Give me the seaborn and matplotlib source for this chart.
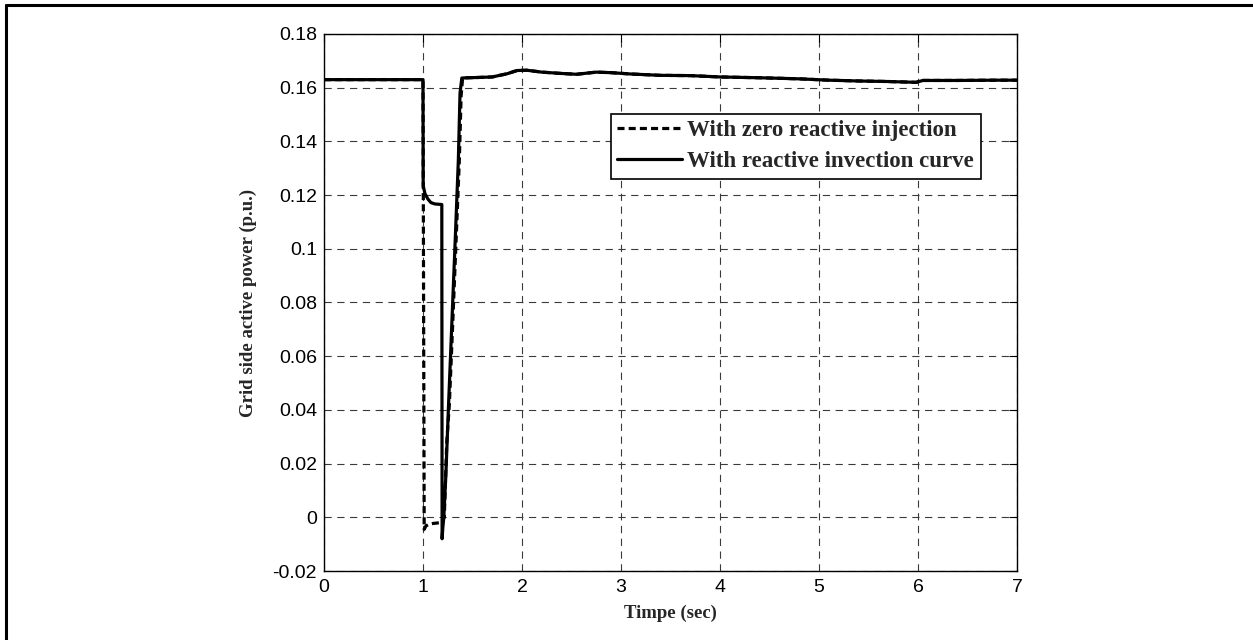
import numpy as np
import pandas as pd
import matplotlib
matplotlib.use("Agg")
import matplotlib.pyplot as plt
import seaborn as sns
from matplotlib.ticker import FuncFormatter, FixedLocator
from matplotlib.lines import Line2D

# ---------------- data ----------------
series_names = ["With zero reactive injection", "With reactive invection curve"]

t_tail = [1.45, 1.55, 1.70, 1.85, 1.95, 2.05, 2.20, 2.40, 2.55, 2.75, 2.90,
          3.10, 3.40, 3.70, 4.00, 4.40, 4.80, 5.10, 5.40, 5.70, 5.98, 6.05,
          6.40, 6.80, 7.00]
p_tail = [0.1637, 0.1638, 0.1640, 0.1652, 0.1664, 0.1665, 0.1658, 0.1653,
          0.1650, 0.1658, 0.1656, 0.1651, 0.1646, 0.1645, 0.1640, 0.1637,
          0.1633, 0.1628, 0.1625, 0.1623, 0.1620, 0.1627, 0.1627, 0.1628,
          0.1628]

t_zero = [0.0, 1.000, 1.012, 1.030, 1.060, 1.100, 1.150, 1.190, 1.215,
          1.240, 1.266, 1.300, 1.334, 1.367, 1.385, 1.400] + t_tail
p_zero = [0.1630, 0.1630, -0.0045, -0.0032, -0.0026, -0.0023, -0.0021,
          -0.0019, 0.0000, 0.0280, 0.0420, 0.0720, 0.1030, 0.1330, 0.1570,
          0.1636] + p_tail

t_curve = [0.0, 1.000, 1.002, 1.020, 1.050, 1.080, 1.120, 1.190, 1.193,
           1.200, 1.210, 1.230, 1.256, 1.290, 1.324, 1.357, 1.374, 1.392] + t_tail
p_curve = [0.1630, 0.1630, 0.1235, 0.1205, 0.1185, 0.1172, 0.1167, 0.1165,
           -0.0080, -0.0040, 0.0000, 0.0150, 0.0400, 0.0710, 0.1020, 0.1330,
           0.1580, 0.1636] + p_tail

x_ticks = [0, 1, 2, 3, 4, 5, 6, 7]
y_ticks = [-0.02, 0.0, 0.02, 0.04, 0.06, 0.08, 0.10, 0.12, 0.14, 0.16, 0.18]

x_label = "Timpe (sec)"
y_label = "Grid side active power (p.u.)"

# ---------------- styling ----------------
sns.set_theme(style="white")
plt.rcParams["font.family"] = ["Liberation Sans", "DejaVu Sans"]
plt.rcParams["axes.unicode_minus"] = False

W, H = 1253, 640
fig = plt.figure(figsize=(W / 100, H / 100), dpi=100)
fig.patch.set_facecolor("white")

ax_left, ax_right, ax_top, ax_bottom = 324, 1017, 34, 571
ax = fig.add_axes([ax_left / W, 1 - ax_bottom / H,
                   (ax_right - ax_left) / W, (ax_bottom - ax_top) / H])
ax.set_facecolor("white")

df_zero = pd.DataFrame({"t": t_zero, "p": p_zero})
df_curve = pd.DataFrame({"t": t_curve, "p": p_curve})

lw = 2.3
sns.lineplot(data=df_zero, x="t", y="p", ax=ax, sort=False, estimator=None,
             color="black", linewidth=lw, label=series_names[0],
             zorder=3)
ax.lines[-1].set_dashes([2.2, 1.3])
sns.lineplot(data=df_curve, x="t", y="p", ax=ax, sort=False, estimator=None,
             color="black", linewidth=lw, label=series_names[1],
             zorder=4)

ax.set_xlim(x_ticks[0], x_ticks[-1])
ax.set_ylim(y_ticks[0], y_ticks[-1])
ax.xaxis.set_major_locator(FixedLocator(x_ticks))
ax.yaxis.set_major_locator(FixedLocator(y_ticks))
ax.xaxis.set_major_formatter(FuncFormatter(lambda v, p: f"{v:g}"))
ax.yaxis.set_major_formatter(FuncFormatter(lambda v, p: f"{round(v, 4):g}"))

ax.grid(True, which="major", color="#3a3a3a", linestyle=(0, (6.5, 5.0)),
        linewidth=0.8, zorder=1)
ax.set_axisbelow(True)
ax.tick_params(direction="in", top=True, right=True, length=6, width=0.8,
               labelsize=14, colors="black")
ax.tick_params(axis="y", pad=5)
ax.tick_params(axis="x", pad=6)
for s in ax.spines.values():
    s.set_visible(True)
    s.set_color("black")
    s.set_linewidth(1.0)

serif_bold = dict(family=["Liberation Serif", "DejaVu Serif"], weight="bold",
                  size=13.5)
ax.set_xlabel(x_label, fontdict=serif_bold, labelpad=6)
ax.set_ylabel(y_label, fontdict=serif_bold, labelpad=11)

leg = ax.legend(loc="lower right",
                bbox_to_anchor=((981 - ax_left) / (ax_right - ax_left),
                                (ax_bottom - 179) / (ax_bottom - ax_top)),
                borderaxespad=0, frameon=True, fancybox=False, framealpha=1,
                edgecolor="black", handlelength=2.8, handletextpad=0.25,
                borderpad=0.3, labelspacing=0.42,
                prop=dict(family=["Liberation Serif", "DejaVu Serif"],
                          weight="bold", size=16.5))
leg.get_frame().set_linewidth(1.2)
leg.set_zorder(10)

# outer figure frame (top and left edges visible)
fig.add_artist(Line2D([6 / W, 6 / W], [0, 1 - 5 / H], transform=fig.transFigure,
                      color="black", linewidth=2.2))
fig.add_artist(Line2D([6 / W, 1.0], [1 - 5 / H, 1 - 5 / H],
                      transform=fig.transFigure, color="black", linewidth=2.2))

fig.savefig("out.png", dpi=100, facecolor="white")
